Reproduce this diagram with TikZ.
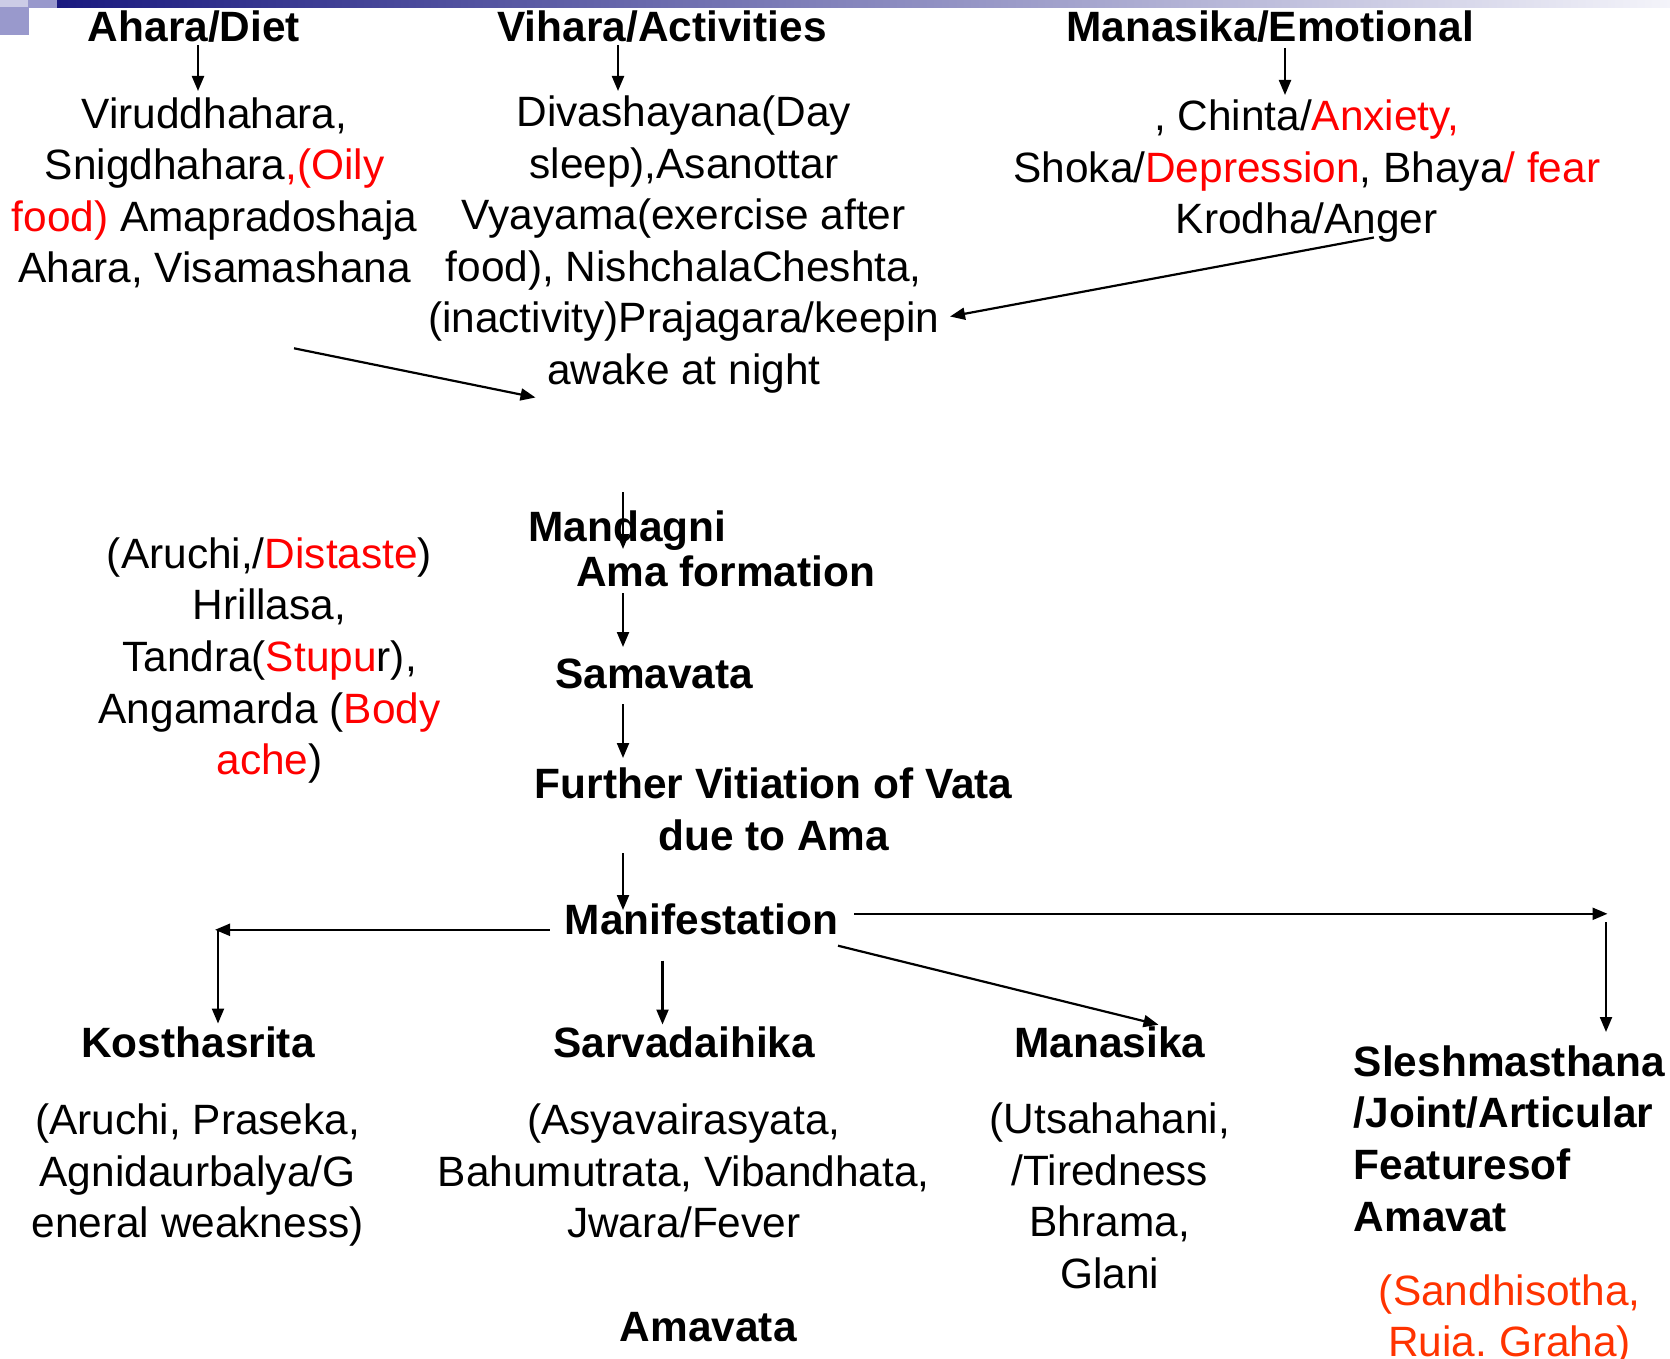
\documentclass[tikz,border=0pt]{standalone}
\usepackage{fontspec}
\setmainfont{Liberation Sans}
\usetikzlibrary{arrows.meta}
\definecolor{rd}{RGB}{255,0,0}
\definecolor{orng}{RGB}{255,51,0}
\definecolor{navyb}{RGB}{26,26,128}
\definecolor{lightb}{RGB}{244,244,250}
\definecolor{lav}{RGB}{204,204,230}
\definecolor{midp}{RGB}{153,153,204}
\frenchspacing
\begin{document}
\frenchspacing
\begin{tikzpicture}[x=1pt,y=-1pt,
  txt/.style={inner sep=0pt, align=center, font=\fontsize{42.4}{51.6}\selectfont},
  hdr/.style={inner sep=0pt, align=center, font=\fontsize{42.4}{51.6}\selectfont\bfseries},
  arr/.style={line width=2.2pt, -{Triangle[length=15pt,width=12pt]}},
  ln/.style={line width=2.2pt}]
\useasboundingbox (0,0) rectangle (1670,1359);
% top decoration
\shade[left color=navyb, right color=lightb] (57,0) rectangle (1670,8);
\fill[lav] (0,0) rectangle (28,7);
\fill[midp] (28,0) rectangle (57,8);
\fill[midp] (0,7) rectangle (29,35);

% headers
\node[hdr] (ahara) at (194,26.6) {Ahara/Diet};
\node[hdr] (vihara) at (662,26.6) {Vihara/Activities};
\node[hdr] (manas) at (1270,26.6) {Manasika/Emotional};

% bodies
\node[txt] (aharab) at (214.6,192.9) {Viruddhahara,\\Snigdhahara\textcolor{rd}{,(Oily}\\\textcolor{rd}{food)} Amapradoshaja\\Ahara, Visamashana};
\node[txt] (viharab) at (683.8,244.5) {Divashayana(Day\\sleep),Asanottar\\Vyayama(exercise after\\food), NishchalaCheshta,\\(inactivity)Prajagara/keepin\\awake at night};
\node[txt] (manasb) at (1306.8,171.4) {, Chinta/\textcolor{rd}{Anxiety,}\\Shoka/\textcolor{rd}{Depression}, Bhaya\textcolor{rd}{/ fear}\\Krodha/Anger};

\node[txt] (symp) at (269.5,660.5) {(Aruchi,/\textcolor{rd}{Distaste})\\Hrillasa,\\Tandra(\textcolor{rd}{Stupu}r),\\Angamarda (\textcolor{rd}{Body}\\\textcolor{rd}{ache})};

% chain
\node[hdr] (mand) at (627.3,531) {Mandagni};
\node[hdr] (ama) at (725.7,571) {Ama formation};
\node[hdr] (sama) at (654.2,674) {Samavata};
\node[hdr] (furth) at (773.7,809.5) {Further Vitiation of Vata\\due to Ama};
\node[hdr] (manif) at (701.4,919) {Manifestation};

% bottom categories
\node[hdr] (kostha) at (198,1042.7) {Kosthasrita};
\node[hdr] (sarva) at (684.3,1042.7) {Sarvadaihika};
\node[hdr] (manask) at (1109.8,1042.7) {Manasika};
\node[hdr, align=left, anchor=west] (slesh) at (1353.7,1138.5) {Sleshmasthana\\/Joint/Articular\\Featuresof\\Amavat};

\node[txt] (kosthab) at (197.6,1175.3) {(Aruchi, Praseka,\\Agnidaurbalya/G\\eneral weakness)};
\node[txt] (sarvab) at (683.8,1171) {(Asyavairasyata,\\Bahumutrata, Vibandhata,\\Jwara/Fever};
\node[txt] (manaskb) at (1109.8,1196) {(Utsahahani,\\/Tiredness\\Bhrama,\\Glani};
\node[hdr] (amavata) at (708.3,1327) {Amavata};
\node[txt, text=orng] (sandhi) at (1509.7,1320) {(Sandhisotha,\\Ruia. Graha)};

% connector coordinates
\coordinate (a1s) at (198,45);   \coordinate (a1e) at (198,91);
\coordinate (a2s) at (618,45);   \coordinate (a2e) at (618,91);
\coordinate (a3s) at (1285,48);  \coordinate (a3e) at (1285,95);
\coordinate (krs) at (1373.9,237.5); \coordinate (kre) at (950,316.5);
\coordinate (ahs) at (294,348.3);    \coordinate (ahe) at (535.5,397.5);
\coordinate (m1s) at (623,492);  \coordinate (m1e) at (623,549);
\coordinate (m2s) at (623,593);  \coordinate (m2e) at (623,647);
\coordinate (m3s) at (623,704);  \coordinate (m3e) at (623,758);
\coordinate (m4s) at (623,853);  \coordinate (m4e) at (623,910);
\coordinate (ls) at (549.6,929.8);  \coordinate (le) at (215,929.8);
\coordinate (lvs) at (218,929.8);   \coordinate (lve) at (218,1023.5);
\coordinate (rs) at (854,913.8);    \coordinate (re) at (1607.5,913.8);
\coordinate (rvs) at (1606,922);    \coordinate (rve) at (1606,1032);
\coordinate (mds) at (662.5,960.6); \coordinate (mde) at (662.5,1024.5);
\coordinate (dgs) at (838,945.7);   \coordinate (dge) at (1158.5,1024.7);

\draw[arr] (a1s) -- (a1e);
\draw[arr] (a2s) -- (a2e);
\draw[arr] (a3s) -- (a3e);
\draw[arr] (krs) -- (kre);
\draw[arr] (ahs) -- (ahe);
\draw[arr] (m1s) -- (m1e);
\draw[arr] (m2s) -- (m2e);
\draw[arr] (m3s) -- (m3e);
\draw[arr] (m4s) -- (m4e);
\draw[arr] (ls) -- (le);
\draw[arr] (lvs) -- (lve);
\draw[arr] (rs) -- (re);
\draw[arr] (rvs) -- (rve);
\draw[arr] (mds) -- (mde);
\draw[arr] (dgs) -- (dge);
\end{tikzpicture}
\end{document}
